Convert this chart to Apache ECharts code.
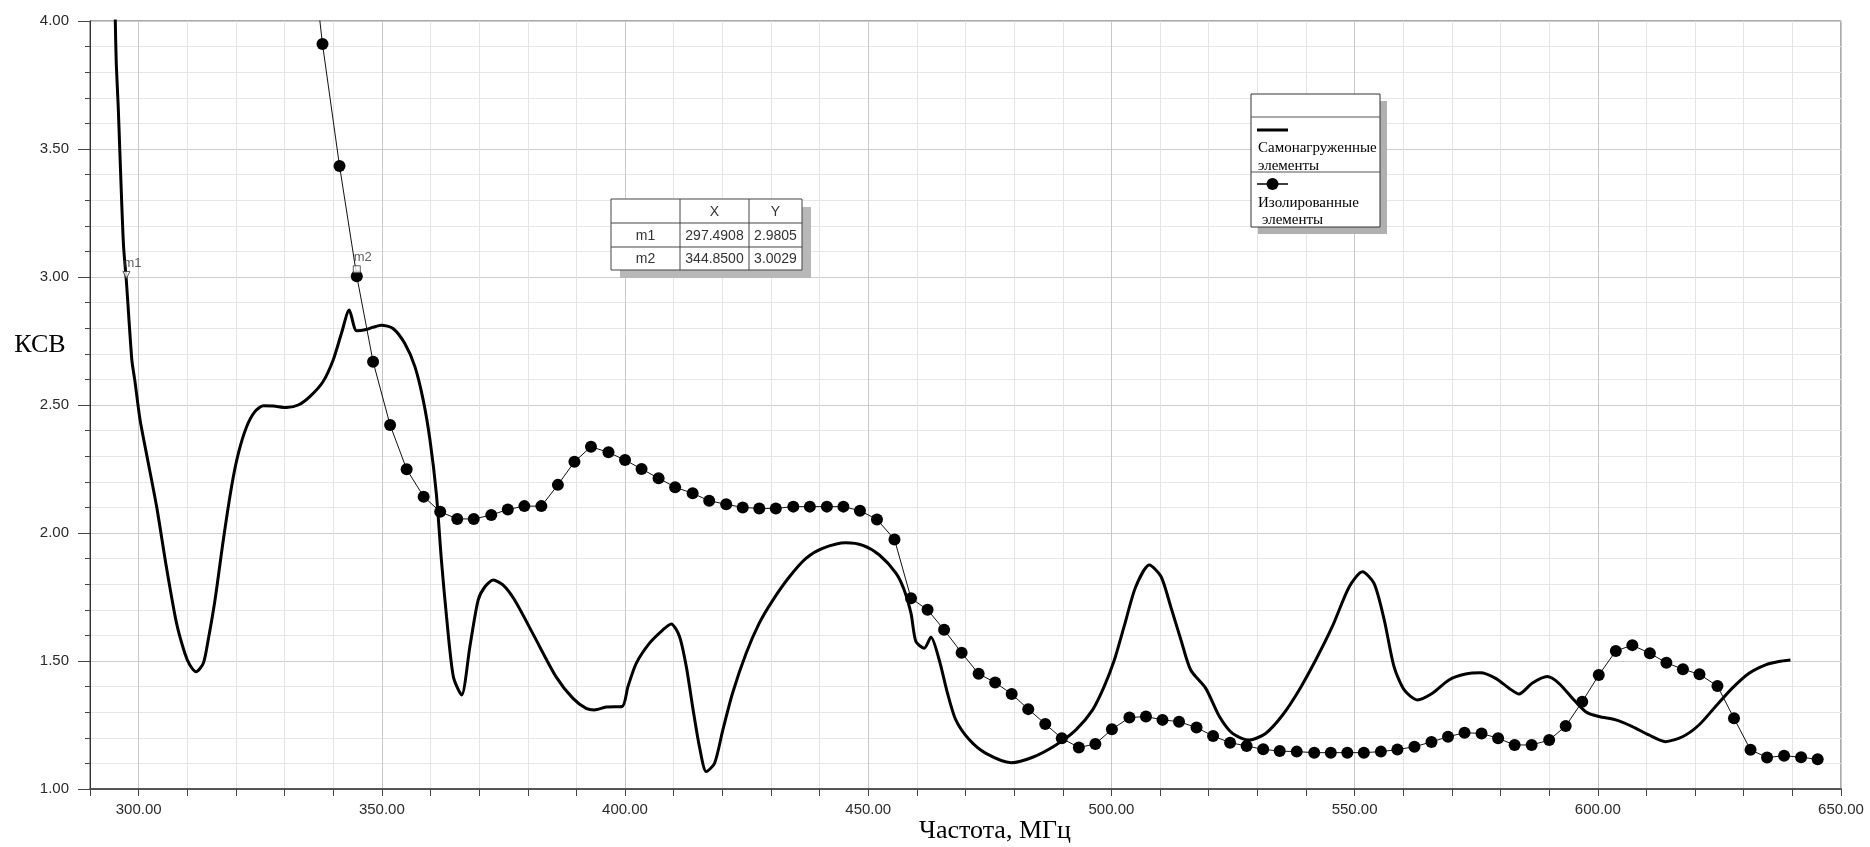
<!DOCTYPE html>
<html>
<head>
<meta charset="utf-8">
<script src="https://cdn.jsdelivr.net/npm/echarts@6/dist/echarts.min.js"></script>
<style>
  html, body { margin: 0; padding: 0; background: #fff; }
  #chart { width: 1870px; height: 847px; }
</style>
</head>
<body>
<div id="chart"></div>
<script>
// Самонагруженные элементы: частота, МГц и КСВ
const freqSelf = [295.0, 295.2, 295.4, 295.8, 296.1, 296.5, 296.9, 297.4908, 298.6, 299.2, 300.3, 301.6,
  303.7, 305.7, 307.8, 309.5, 310.5, 311.8, 313.3, 314.3, 315.7, 317.4, 319.1, 320.5, 322.2, 323.9,
  325.6, 327.7, 330.4, 332.8, 335.2, 337.9, 340.0, 341.7, 343.3, 344.8, 346.8, 349.9, 352.3, 354.7,
  356.8, 358.5, 359.9, 361.2, 362.3, 363.3, 364.7, 366.4, 368.1, 369.8, 371.2, 372.9, 374.9, 377.3,
  381.1, 385.8, 389.3, 392.0, 393.7, 396.1, 399.4, 400.6, 402.3, 405.0, 407.8, 409.5, 411.2,
  412.6, 414.0, 415.3, 416.7, 418.4, 420.1, 422.1, 424.9, 427.6, 430.4, 433.8, 437.2, 440.6, 445.4,
  448.9, 452.3, 455.7, 457.4, 458.8, 459.8, 461.5, 462.9, 464.6, 466.3, 468.0, 470.8, 474.2, 479.4,
  483.8, 488.6, 492.7, 496.1, 498.5, 500.6, 502.6, 505.0, 507.8, 510.2, 512.2, 514.3, 516.3, 519.4,
  522.2, 524.9, 528.3, 531.7, 535.2, 538.6, 542.0, 545.4, 548.9, 551.6, 554.0, 556.1, 558.1, 560.2,
  562.9, 566.0, 569.4, 572.8, 575.9, 579.0, 581.8, 583.8, 586.5, 589.6, 592.0, 594.8, 597.5, 600.2,
  603.7, 607.1, 610.5, 613.9, 617.4, 620.8, 624.2, 627.6, 631.1, 634.5, 637.2, 639.6];
const vswrSelf = [4.20, 4.00, 3.835, 3.666, 3.51, 3.30, 3.12, 2.9805, 2.676, 2.598, 2.441, 2.311,
  2.103, 1.868, 1.647, 1.530, 1.485, 1.458, 1.491, 1.582, 1.738, 1.972, 2.181, 2.311, 2.415, 2.474,
  2.497, 2.496, 2.490, 2.500, 2.533, 2.591, 2.676, 2.780, 2.871, 2.790, 2.795, 2.812, 2.799, 2.741,
  2.650, 2.520, 2.363, 2.155, 1.882, 1.673, 1.439, 1.367, 1.556, 1.738, 1.790, 1.816, 1.797, 1.738,
  1.605, 1.439, 1.354, 1.315, 1.309, 1.320, 1.322, 1.400, 1.491, 1.569, 1.622, 1.645, 1.596,
  1.478, 1.309, 1.165, 1.068, 1.100, 1.230, 1.374, 1.530, 1.648, 1.738, 1.829, 1.901, 1.940, 1.962,
  1.952, 1.914, 1.843, 1.777, 1.686, 1.576, 1.550, 1.593, 1.504, 1.374, 1.270, 1.192, 1.139, 1.103,
  1.124, 1.172, 1.231, 1.308, 1.400, 1.504, 1.634, 1.790, 1.875, 1.830, 1.712, 1.582, 1.465, 1.393,
  1.283, 1.217, 1.191, 1.217, 1.289, 1.387, 1.504, 1.634, 1.790, 1.849, 1.803, 1.660, 1.478, 1.387,
  1.348, 1.374, 1.426, 1.449, 1.454, 1.432, 1.393, 1.371, 1.413, 1.439, 1.413, 1.354, 1.302, 1.283,
  1.270, 1.244, 1.211, 1.185, 1.204, 1.250, 1.322, 1.393, 1.452, 1.485, 1.498, 1.504];

// Изолированные элементы: частота, МГц и КСВ
const freqIso = [334.3, 337.8, 341.3, 344.85, 348.2, 351.7, 355.1, 358.6, 362.0, 365.5, 368.9, 372.5,
  375.9, 379.3, 382.8, 386.2, 389.6, 393.0, 396.6, 400.0, 403.4, 406.9, 410.3, 413.9, 417.3, 420.8,
  424.2, 427.6, 431.0, 434.6, 438.0, 441.5, 444.9, 448.3, 451.8, 455.4, 458.8, 462.2, 465.6, 469.2,
  472.7, 476.1, 479.5, 482.9, 486.4, 489.8, 493.3, 496.7, 500.1, 503.7, 507.1, 510.5, 513.9, 517.5,
  520.9, 524.4, 527.8, 531.2, 534.6, 538.1, 541.7, 545.1, 548.5, 551.9, 555.4, 558.8, 562.3, 565.8,
  569.2, 572.6, 576.1, 579.5, 582.9, 586.4, 590.0, 593.4, 596.8, 600.2, 603.7, 607.1, 610.7, 614.1,
  617.5, 620.9, 624.6, 628.0, 631.4, 634.8, 638.3, 641.8, 645.2];
const vswrIso = [4.50, 3.910, 3.434, 3.0029, 2.669, 2.422, 2.249, 2.142, 2.083, 2.055, 2.055, 2.070,
  2.092, 2.105, 2.105, 2.188, 2.278, 2.337, 2.315, 2.285, 2.250, 2.214, 2.179, 2.155, 2.126, 2.112,
  2.100, 2.096, 2.096, 2.103, 2.103, 2.103, 2.103, 2.087, 2.053, 1.975, 1.745, 1.700, 1.622, 1.532,
  1.450, 1.416, 1.371, 1.312, 1.254, 1.198, 1.162, 1.176, 1.233, 1.279, 1.283, 1.270, 1.263, 1.240,
  1.207, 1.181, 1.168, 1.155, 1.148, 1.146, 1.142, 1.142, 1.142, 1.142, 1.146, 1.154, 1.165, 1.184,
  1.204, 1.220, 1.217, 1.198, 1.172, 1.172, 1.191, 1.246, 1.341, 1.445, 1.539, 1.562, 1.530, 1.493,
  1.468, 1.448, 1.402, 1.276, 1.153, 1.123, 1.130, 1.124, 1.116];

// Маркеры
const markerNames = ['m1', 'm2'];
const markerX = [297.4908, 344.8500];
const markerY = [2.9805, 3.0029];
const markerSymbols = ['triangle', 'rect'];

// Подписи осей
const xLabelValues = [300, 350, 400, 450, 500, 550, 600, 650];
const seriesNames = ['Самонагруженные элементы', 'Изолированные элементы'];

const pairs = (xs, ys) => xs.map((x, i) => [x, ys[i]]);

const SANS = '"Liberation Sans", Arial, sans-serif';
const SERIF = '"Liberation Serif", "Times New Roman", serif';

const chart = echarts.init(document.getElementById('chart'), null, { renderer: 'canvas' });

// Таблица маркеров
const tbl = { x: 611, y: 199, cols: [611, 680, 749, 802], rows: [199, 223, 247, 270] };
const tableEls = [];
tableEls.push({ type: 'rect', shape: { x: tbl.x + 9, y: tbl.y + 8, width: 191, height: 71 },
  style: { fill: '#b8b8b8' }, z: 100 });
tableEls.push({ type: 'rect', shape: { x: tbl.x, y: tbl.y, width: 191, height: 71 },
  style: { fill: '#fff', stroke: '#444', lineWidth: 1 }, z: 101 });
[tbl.cols[1], tbl.cols[2]].forEach(cx => tableEls.push({ type: 'line',
  shape: { x1: cx, y1: tbl.rows[0], x2: cx, y2: tbl.rows[3] }, style: { stroke: '#444', lineWidth: 1 }, z: 102 }));
[tbl.rows[1], tbl.rows[2]].forEach(ry => tableEls.push({ type: 'line',
  shape: { x1: tbl.cols[0], y1: ry, x2: tbl.cols[3], y2: ry }, style: { stroke: '#444', lineWidth: 1 }, z: 102 }));
const cellText = (txt, c, r) => ({ type: 'text', z: 103,
  style: { text: txt, x: (tbl.cols[c] + tbl.cols[c + 1]) / 2, y: (tbl.rows[r] + tbl.rows[r + 1]) / 2 + 1,
    align: 'center', verticalAlign: 'middle', fontFamily: SANS, fontSize: 14, fill: '#333' } });
tableEls.push(cellText('X', 1, 0), cellText('Y', 2, 0));
markerNames.forEach((n, i) => {
  tableEls.push(cellText(n, 0, i + 1));
  tableEls.push(cellText(markerX[i].toFixed(4), 1, i + 1));
  tableEls.push(cellText(markerY[i].toFixed(4), 2, i + 1));
});

// Легенда
const lg = { x: 1251, y: 94, w: 129, h: 133 };
const legendEls = [
  { type: 'rect', shape: { x: lg.x + 7, y: lg.y + 7, width: lg.w, height: lg.h }, style: { fill: '#b0b0b0' }, z: 100 },
  { type: 'rect', shape: { x: lg.x, y: lg.y, width: lg.w, height: lg.h }, style: { fill: '#fff', stroke: '#333', lineWidth: 1 }, z: 101 },
  { type: 'line', shape: { x1: lg.x, y1: 117, x2: lg.x + lg.w, y2: 117 }, style: { stroke: '#555', lineWidth: 1 }, z: 102 },
  { type: 'line', shape: { x1: lg.x, y1: 172, x2: lg.x + lg.w, y2: 172 }, style: { stroke: '#555', lineWidth: 1 }, z: 102 },
  { type: 'line', shape: { x1: 1257, y1: 130, x2: 1288, y2: 130 }, style: { stroke: '#000', lineWidth: 3 }, z: 102 },
  { type: 'line', shape: { x1: 1257, y1: 184, x2: 1288, y2: 184 }, style: { stroke: '#000', lineWidth: 1.5 }, z: 102 },
  { type: 'circle', shape: { cx: 1272.5, cy: 184, r: 6 }, style: { fill: '#000' }, z: 103 },
  { type: 'text', z: 103, style: { text: 'Самонагруженные', x: 1258, y: 148, verticalAlign: 'middle', fontFamily: SERIF, fontSize: 15, fill: '#000' } },
  { type: 'text', z: 103, style: { text: 'элементы', x: 1258, y: 166, verticalAlign: 'middle', fontFamily: SERIF, fontSize: 15, fill: '#000' } },
  { type: 'text', z: 103, style: { text: 'Изолированные', x: 1258, y: 203, verticalAlign: 'middle', fontFamily: SERIF, fontSize: 15, fill: '#000' } },
  { type: 'text', z: 103, style: { text: 'элементы', x: 1262, y: 220, verticalAlign: 'middle', fontFamily: SERIF, fontSize: 15, fill: '#000' } }
];

// Названия осей
const axisNameEls = [
  { type: 'text', z: 50, style: { text: 'КСВ', x: 40, y: 345, align: 'center', verticalAlign: 'middle', fontFamily: SERIF, fontSize: 26, fill: '#000' } },
  { type: 'text', z: 50, style: { text: 'Частота, МГц', x: 995, y: 831, align: 'center', verticalAlign: 'middle', fontFamily: SERIF, fontSize: 26, fill: '#000' } }
];

const option = {
  backgroundColor: '#fff',
  animation: false,
  grid: { left: 90, right: 29, top: 21, bottom: 58, show: true, borderColor: '#555', borderWidth: 1, containLabel: false },
  xAxis: {
    type: 'value', min: 290, max: 650, interval: 10,
    axisLine: { show: true, lineStyle: { color: '#555', width: 2 } },
    axisTick: { show: true, length: 7, lineStyle: { color: '#444' } },
    axisLabel: {
      margin: 13, fontFamily: SANS, fontSize: 15, color: '#2a2a2a',
      formatter: v => (xLabelValues.includes(v) ? v.toFixed(2) : '')
    },
    splitLine: { show: true, lineStyle: { color: ['#e4e4e4', '#c8c8c8', '#e4e4e4', '#e4e4e4', '#e4e4e4'], width: 1 } }
  },
  yAxis: {
    type: 'value', min: 1, max: 4, interval: 0.5,
    axisLine: { show: true, lineStyle: { color: '#333', width: 1 } },
    axisTick: { show: true, length: 12, lineStyle: { color: '#444' } },
    minorTick: { show: true, splitNumber: 5, length: 5, lineStyle: { color: '#444' } },
    axisLabel: { margin: 21, fontFamily: SANS, fontSize: 15, color: '#2a2a2a', formatter: v => v.toFixed(2) },
    splitLine: { show: true, lineStyle: { color: '#cdcdcd', width: 1 } },
    minorSplitLine: { show: true, lineStyle: { color: '#e6e6e6', width: 1 } }
  },
  series: [
    {
      name: seriesNames[0], type: 'line', data: pairs(freqSelf, vswrSelf),
      showSymbol: false, symbol: 'none', smooth: 0.25, clip: true,
      lineStyle: { color: '#000', width: 3 }, z: 3
    },
    {
      name: seriesNames[1], type: 'line', data: pairs(freqIso, vswrIso),
      symbol: 'circle', symbolSize: 12, showAllSymbol: true, clip: true,
      itemStyle: { color: '#000' },
      lineStyle: { color: '#111', width: 1 }, z: 4
    },
    {
      name: 'markers', type: 'scatter', z: 5,
      data: markerNames.map((n, i) => ({
        name: n, value: [markerX[i], markerY[i]],
        symbol: markerSymbols[i], symbolRotate: i === 0 ? 180 : 0
      })),
      symbolSize: 7, symbolOffset: [0, -7],
      itemStyle: { color: '#fff', borderColor: '#333', borderWidth: 1 },
      label: { show: true, position: 'top', distance: 1, offset: [6, 0], formatter: p => p.name,
        fontFamily: SANS, fontSize: 13, color: '#333' }
    }
  ],
  graphic: { elements: [...axisNameEls, ...tableEls, ...legendEls] }
};

chart.setOption(option);
</script>
</body>
</html>
